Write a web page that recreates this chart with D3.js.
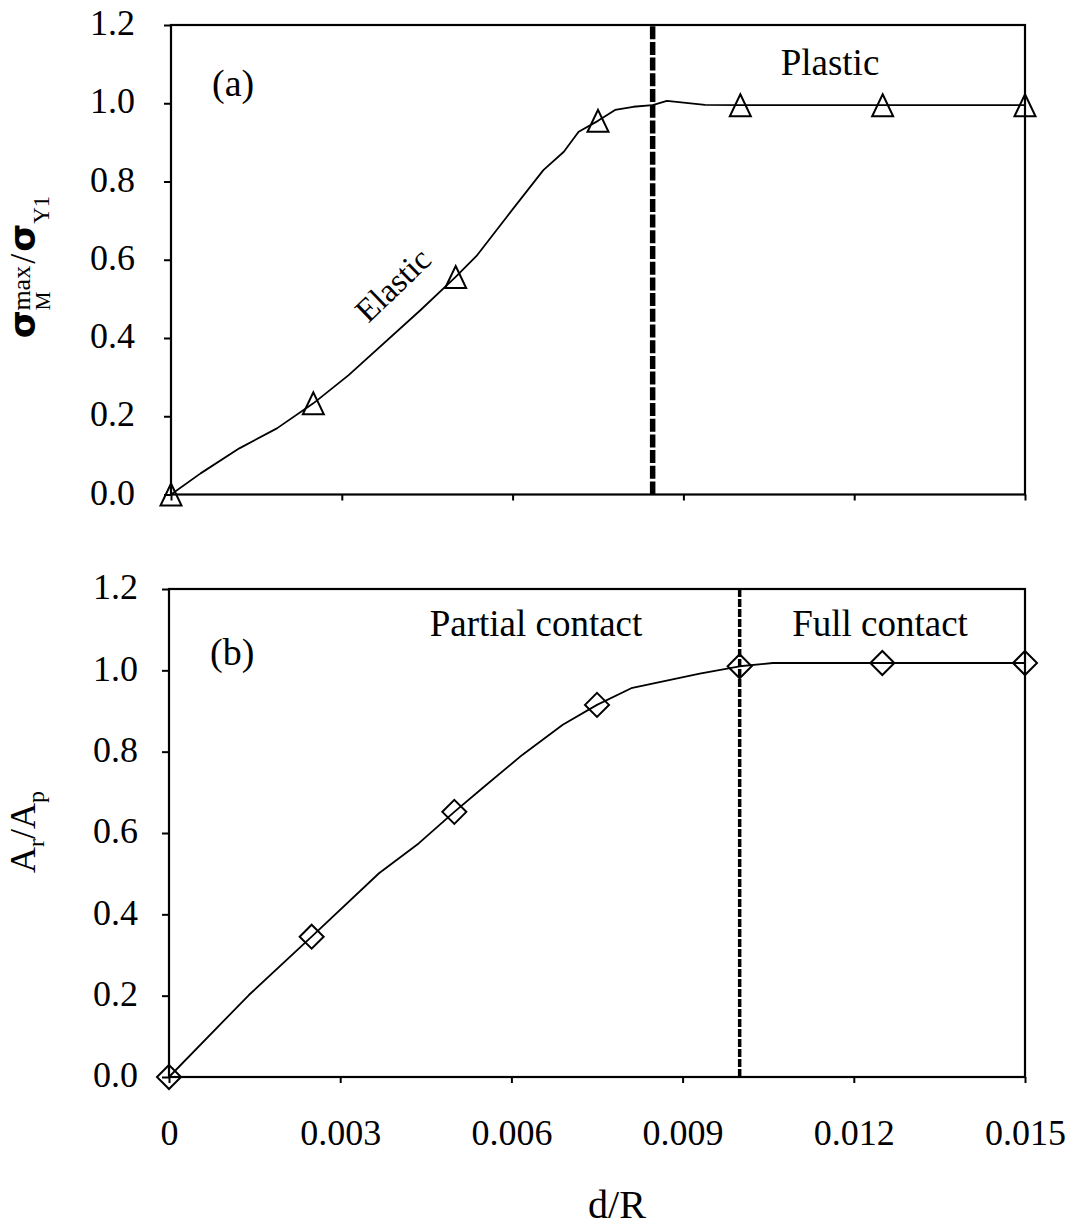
<!DOCTYPE html>
<html><head><meta charset="utf-8">
<script src="https://cdn.jsdelivr.net/npm/d3@7"></script>
<style>
body{margin:0;background:#fff}
svg{display:block}
text{font-family:"Liberation Serif","Times New Roman",serif;fill:#000}
</style>
</head><body>
<svg id="c" width="1073" height="1228"></svg>
<script>
// ---------- data ----------
const xTicks = [0, 0.003, 0.006, 0.009, 0.012, 0.015];
const xTickLabels = ["0", "0.003", "0.006", "0.009", "0.012", "0.015"];
const yTicks = [0, 0.2, 0.4, 0.6, 0.8, 1.0, 1.2];
const yTickLabels = ["0.0", "0.2", "0.4", "0.6", "0.8", "1.0", "1.2"];

// panel (a): sigma_M^max / sigma_Y1
const topCurveX = [0, 0.00052, 0.0012, 0.00186, 0.0025, 0.00312, 0.00438, 0.005, 0.00538, 0.0059, 0.00654, 0.0069, 0.00716, 0.0075, 0.0078, 0.00812, 0.00846, 0.00871, 0.00938, 0.01, 0.0125, 0.015];
const topCurveY = [0, 0.054, 0.118, 0.169, 0.233, 0.305, 0.471, 0.556, 0.612, 0.71, 0.829, 0.876, 0.927, 0.955, 0.983, 0.991, 0.995, 1.006, 0.996, 0.995, 0.995, 0.995];
const topMarkX = [0, 0.0025, 0.005, 0.0075, 0.01, 0.0125, 0.015];
const topMarkY = [0, 0.233, 0.556, 0.955, 0.995, 0.995, 0.995];
const topDivider = 0.00846;

// panel (b): A_r / A_p
const botCurveX = [0, 0.0014, 0.0025, 0.00368, 0.00438, 0.005, 0.00549, 0.00619, 0.0069, 0.0075, 0.0081, 0.0093, 0.01, 0.01058, 0.0125, 0.015];
const botCurveY = [0, 0.2016, 0.345, 0.501, 0.575, 0.652, 0.71, 0.792, 0.866, 0.915, 0.956, 0.992, 1.010, 1.018, 1.018, 1.018];
const botMarkX = [0, 0.0025, 0.005, 0.0075, 0.01, 0.0125, 0.015];
const botMarkY = [0, 0.345, 0.652, 0.915, 1.010, 1.018, 1.018];
const botDivider = 0.01;

// ---------- drawing ----------
const svg = d3.select("#c");

const xTop = d3.scaleLinear().domain([0, 0.015]).range([171, 1025]);
const yTop = d3.scaleLinear().domain([0, 1.2]).range([494.5, 25]);
const xBot = d3.scaleLinear().domain([0, 0.015]).range([169, 1025]);
const yBot = d3.scaleLinear().domain([0, 1.2]).range([1077, 589]);

function panel(x, y, curveX, curveY, markX, markY, divider, divW, divDash, marker, showXLabels, labelGap) {
  const g = svg.append("g");
  const ya = g.append("g").attr("transform", `translate(${x.range()[0]},0)`)
    .call(d3.axisLeft(y).tickValues(yTicks).tickFormat((d, i) => yTickLabels[i]).tickSize(7).tickPadding(labelGap - 7));
  ya.select(".domain").remove();
  ya.selectAll(".tick line").attr("stroke", "#000").attr("stroke-width", 2);
  ya.selectAll(".tick text").attr("font-size", 36).attr("font-family", "Liberation Serif").attr("dy", "0.27em").attr("fill", "#000");

  const xa = g.append("g").attr("transform", `translate(0,${y.range()[0]})`)
    .call(d3.axisBottom(x).tickValues(xTicks).tickFormat((d, i) => showXLabels ? xTickLabels[i] : "").tickSize(6));
  xa.select(".domain").remove();
  xa.selectAll(".tick line").attr("stroke", "#000").attr("stroke-width", 2);
  xa.selectAll(".tick text").attr("font-size", 36).attr("font-family", "Liberation Serif").attr("y", 68).attr("dy", 0).attr("fill", "#000");

  g.append("rect")
    .attr("x", x.range()[0]).attr("y", y.range()[1])
    .attr("width", x.range()[1] - x.range()[0]).attr("height", y.range()[0] - y.range()[1])
    .attr("fill", "none").attr("stroke", "#000").attr("stroke-width", 2.2);

  g.append("line")
    .attr("x1", x(divider)).attr("x2", x(divider))
    .attr("y1", y.range()[0]).attr("y2", y.range()[1])
    .attr("stroke", "#000").attr("stroke-width", divW).attr("stroke-dasharray", divDash);

  const pts = curveX.map((d, i) => [d, curveY[i]]);
  g.append("path").datum(pts)
    .attr("d", d3.line().x(d => x(d[0])).y(d => y(d[1])))
    .attr("fill", "none").attr("stroke", "#000").attr("stroke-width", 1.8).attr("stroke-linejoin", "round");

  const mk = markX.map((d, i) => [d, markY[i]]);
  g.selectAll("path.mk").data(mk).enter().append("path").attr("class", "mk")
    .attr("transform", d => `translate(${x(d[0])},${y(d[1])})`)
    .attr("d", marker)
    .attr("fill", "none").attr("stroke", "#000").attr("stroke-width", 2);
  return g;
}

const tri = "M0,-11L10.5,11L-10.5,11Z";
const dia = "M0,-12L12,0L0,12L-12,0Z";

panel(xTop, yTop, topCurveX, topCurveY, topMarkX, topMarkY, topDivider, 5.5, "13,2.7", tri, false, 36);
panel(xBot, yBot, botCurveX, botCurveY, botMarkX, botMarkY, botDivider, 3.5, "8,2", dia, true, 31);

// annotations
svg.append("text").attr("x", 212).attr("y", 96).attr("font-size", 38).text("(a)");
svg.append("text").attr("x", 210).attr("y", 665).attr("font-size", 38).text("(b)");
svg.append("text").attr("x", 830).attr("y", 75).attr("font-size", 37).attr("text-anchor", "middle").text("Plastic");
svg.append("text").attr("x", 536).attr("y", 636).attr("font-size", 37).attr("text-anchor", "middle").text("Partial contact");
svg.append("text").attr("x", 880).attr("y", 636).attr("font-size", 37).attr("text-anchor", "middle").text("Full contact");
svg.append("text").attr("font-size", 33).attr("text-anchor", "middle").attr("dominant-baseline", "central")
  .attr("transform", "translate(393,285) rotate(-44)").text("Elastic");

// x axis title
svg.append("text").attr("x", 617).attr("y", 1218).attr("font-size", 40).attr("text-anchor", "middle").text("d/R");

// y axis title (a)
const ta = svg.append("text").attr("transform", "translate(35,267) rotate(-90)").attr("text-anchor", "middle");
ta.append("tspan").attr("font-family", "DejaVu Sans").attr("font-weight", "bold").attr("font-size", 36).text("σ");
ta.append("tspan").attr("font-size", 21).attr("dy", 15).text("M");
ta.append("tspan").attr("font-size", 26).attr("dx", -19).attr("dy", -20).text("max");
ta.append("tspan").attr("font-size", 36).attr("dy", 5).attr("dx", 2).text("/");
ta.append("tspan").attr("font-family", "DejaVu Sans").attr("font-weight", "bold").attr("font-size", 36).attr("dx", 2).text("σ");
ta.append("tspan").attr("font-size", 23).attr("dy", 14).text("Y1");

// y axis title (b)
const tb = svg.append("text").attr("transform", "translate(35,832) rotate(-90)").attr("text-anchor", "middle");
tb.append("tspan").attr("font-size", 36).text("A");
tb.append("tspan").attr("font-size", 24).attr("dy", 9).text("r");
tb.append("tspan").attr("font-size", 36).attr("dy", -9).text("/A");
tb.append("tspan").attr("font-size", 24).attr("dy", 9).text("p");
</script>
</body></html>
